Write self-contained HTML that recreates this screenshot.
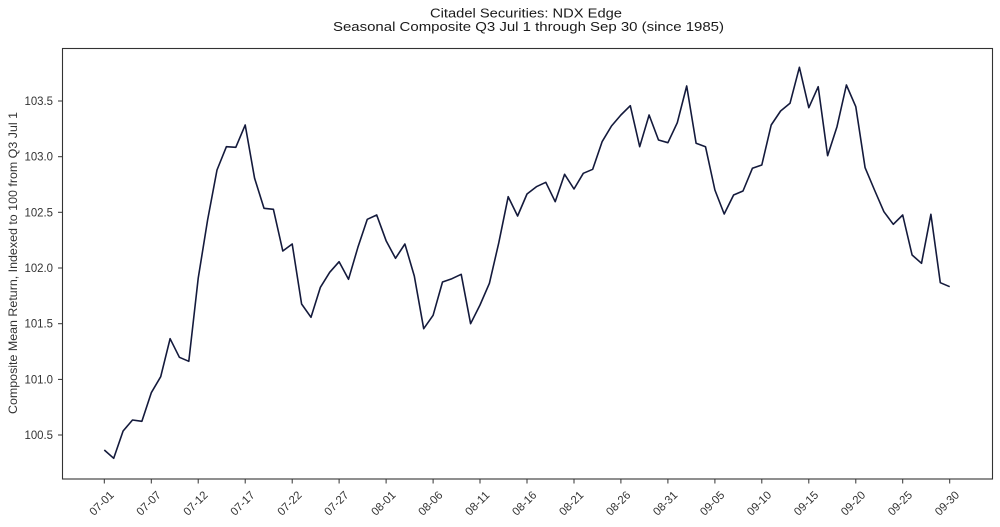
<!DOCTYPE html>
<html>
<head>
<meta charset="utf-8">
<style>
html,body{margin:0;padding:0;background:#fff;}
svg{display:block;}
text{font-family:"Liberation Sans",Arial,sans-serif;}
</style>
</head>
<body>
<svg width="1000" height="527" viewBox="0 0 1000 527" xmlns="http://www.w3.org/2000/svg">
<rect x="0" y="0" width="1000" height="527" fill="#fff"/>
<!-- titles -->
<text x="526" y="17.5" font-size="13" fill="#1a1a1a" text-anchor="middle" textLength="192" lengthAdjust="spacingAndGlyphs">Citadel Securities: NDX Edge</text>
<text x="528.5" y="31" font-size="13" fill="#1a1a1a" text-anchor="middle" textLength="391" lengthAdjust="spacingAndGlyphs">Seasonal Composite Q3 Jul 1 through Sep 30 (since 1985)</text>
<!-- y label -->
<text transform="translate(17,263) rotate(-90)" x="0" y="0" font-size="12" fill="#333" text-anchor="middle" textLength="302" lengthAdjust="spacingAndGlyphs">Composite Mean Return, Indexed to 100 from Q3 Jul 1</text>
<!-- axes frame -->
<rect x="62.5" y="48.5" width="930" height="430.5" fill="none" stroke="#333" stroke-width="1.1"/>
<!-- y ticks -->
<g stroke="#333" stroke-width="1">
<line x1="58" y1="101" x2="62.5" y2="101"/>
<line x1="58" y1="156.7" x2="62.5" y2="156.7"/>
<line x1="58" y1="212.3" x2="62.5" y2="212.3"/>
<line x1="58" y1="268" x2="62.5" y2="268"/>
<line x1="58" y1="323.7" x2="62.5" y2="323.7"/>
<line x1="58" y1="379.4" x2="62.5" y2="379.4"/>
<line x1="58" y1="435" x2="62.5" y2="435"/>
</g>
<g font-size="11.5" fill="#333" text-anchor="end">
<text x="53" y="105" textLength="28.5" lengthAdjust="spacingAndGlyphs">103.5</text>
<text x="53" y="160.7" textLength="28.5" lengthAdjust="spacingAndGlyphs">103.0</text>
<text x="53" y="216.3" textLength="28.5" lengthAdjust="spacingAndGlyphs">102.5</text>
<text x="53" y="272" textLength="28.5" lengthAdjust="spacingAndGlyphs">102.0</text>
<text x="53" y="327.7" textLength="28.5" lengthAdjust="spacingAndGlyphs">101.5</text>
<text x="53" y="383.4" textLength="28.5" lengthAdjust="spacingAndGlyphs">101.0</text>
<text x="53" y="439" textLength="28.5" lengthAdjust="spacingAndGlyphs">100.5</text>
</g>
<!-- x ticks -->
<g stroke="#333" stroke-width="1">
<line x1="104.3" y1="479" x2="104.3" y2="483.5"/>
<line x1="151.3" y1="479" x2="151.3" y2="483.5"/>
<line x1="198.2" y1="479" x2="198.2" y2="483.5"/>
<line x1="245.2" y1="479" x2="245.2" y2="483.5"/>
<line x1="292.2" y1="479" x2="292.2" y2="483.5"/>
<line x1="339.1" y1="479" x2="339.1" y2="483.5"/>
<line x1="386.1" y1="479" x2="386.1" y2="483.5"/>
<line x1="433.1" y1="479" x2="433.1" y2="483.5"/>
<line x1="480.0" y1="479" x2="480.0" y2="483.5"/>
<line x1="527.0" y1="479" x2="527.0" y2="483.5"/>
<line x1="574.0" y1="479" x2="574.0" y2="483.5"/>
<line x1="620.9" y1="479" x2="620.9" y2="483.5"/>
<line x1="667.9" y1="479" x2="667.9" y2="483.5"/>
<line x1="714.9" y1="479" x2="714.9" y2="483.5"/>
<line x1="761.8" y1="479" x2="761.8" y2="483.5"/>
<line x1="808.8" y1="479" x2="808.8" y2="483.5"/>
<line x1="855.8" y1="479" x2="855.8" y2="483.5"/>
<line x1="902.7" y1="479" x2="902.7" y2="483.5"/>
<line x1="949.7" y1="479" x2="949.7" y2="483.5"/>
</g>
<g font-size="11.5" fill="#333" text-anchor="middle">
<text transform="translate(104.3,506) rotate(-45)" textLength="29" lengthAdjust="spacingAndGlyphs">07-01</text>
<text transform="translate(151.3,506) rotate(-45)" textLength="29" lengthAdjust="spacingAndGlyphs">07-07</text>
<text transform="translate(198.2,506) rotate(-45)" textLength="29" lengthAdjust="spacingAndGlyphs">07-12</text>
<text transform="translate(245.2,506) rotate(-45)" textLength="29" lengthAdjust="spacingAndGlyphs">07-17</text>
<text transform="translate(292.2,506) rotate(-45)" textLength="29" lengthAdjust="spacingAndGlyphs">07-22</text>
<text transform="translate(339.1,506) rotate(-45)" textLength="29" lengthAdjust="spacingAndGlyphs">07-27</text>
<text transform="translate(386.1,506) rotate(-45)" textLength="29" lengthAdjust="spacingAndGlyphs">08-01</text>
<text transform="translate(433.1,506) rotate(-45)" textLength="29" lengthAdjust="spacingAndGlyphs">08-06</text>
<text transform="translate(480.0,506) rotate(-45)" textLength="29" lengthAdjust="spacingAndGlyphs">08-11</text>
<text transform="translate(527.0,506) rotate(-45)" textLength="29" lengthAdjust="spacingAndGlyphs">08-16</text>
<text transform="translate(574.0,506) rotate(-45)" textLength="29" lengthAdjust="spacingAndGlyphs">08-21</text>
<text transform="translate(620.9,506) rotate(-45)" textLength="29" lengthAdjust="spacingAndGlyphs">08-26</text>
<text transform="translate(667.9,506) rotate(-45)" textLength="29" lengthAdjust="spacingAndGlyphs">08-31</text>
<text transform="translate(714.9,506) rotate(-45)" textLength="29" lengthAdjust="spacingAndGlyphs">09-05</text>
<text transform="translate(761.8,506) rotate(-45)" textLength="29" lengthAdjust="spacingAndGlyphs">09-10</text>
<text transform="translate(808.8,506) rotate(-45)" textLength="29" lengthAdjust="spacingAndGlyphs">09-15</text>
<text transform="translate(855.8,506) rotate(-45)" textLength="29" lengthAdjust="spacingAndGlyphs">09-20</text>
<text transform="translate(902.7,506) rotate(-45)" textLength="29" lengthAdjust="spacingAndGlyphs">09-25</text>
<text transform="translate(949.7,506) rotate(-45)" textLength="29" lengthAdjust="spacingAndGlyphs">09-30</text>
</g>
<!-- series -->
<polyline fill="none" stroke="#141a3c" stroke-width="1.6" stroke-linejoin="round" points="
104.3,450 113.7,458.3 123.1,431 132.5,420 141.9,421.3 151.3,392.7 160.7,376.7 170.1,338.7 179.4,357.3 188.8,361.3
198.2,278.3 207.6,220 217.0,170 226.4,146.7 235.8,147.3 245.2,125 254.6,178.3 264.0,208.3 273.4,209.3 282.8,251
292.2,244 301.6,304 311.0,317.3 320.4,287.3 329.7,272.3 339.1,261.7 348.5,279.3 357.9,247.3 367.3,219.3 376.7,215
386.1,240.7 395.5,258.3 404.9,244 414.3,276 423.7,328.7 433.1,315.3 442.5,282 451.9,278.7 461.2,274.3 470.6,323.7
480.0,305 489.4,283.3 498.8,242.7 508.2,196.7 517.6,216 527.0,194 536.4,186.7 545.8,182.3 555.2,201.7 564.6,174.3
574.0,189 583.3,173.3 592.7,169.3 602.1,141.7 611.5,126 620.9,115 630.3,105.7 639.7,146.7 649.1,115 658.5,140
667.9,142.7 677.3,122.7 686.7,86 696.1,143.3 705.5,146.7 714.9,190 724.2,214 733.6,195 743.0,191 752.4,168.3
761.8,165 771.2,125 780.6,111 790.0,103.3 799.4,67.3 808.8,107.7 818.2,86.7 827.6,155.7 837.0,126.7 846.4,85
855.8,106.7 865.1,167.7 874.5,190 883.9,211.7 893.3,224.3 902.7,215 912.1,255 921.5,263.3 930.9,214.3 940.3,282.7
949.7,286.7"/>
</svg>
</body>
</html>
